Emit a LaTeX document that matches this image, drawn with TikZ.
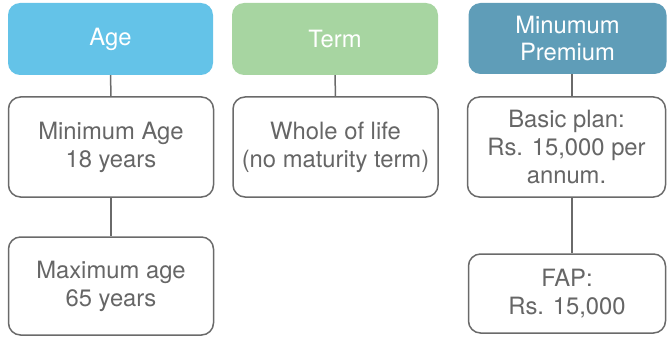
\documentclass[tikz,border=0pt]{standalone}
\usepackage{fontspec}
\setmainfont{TeX Gyre Heros}
\definecolor{ageblue}{HTML}{64C3E8}
\definecolor{termgreen}{HTML}{A7D5A1}
\definecolor{premblue}{HTML}{5F9DB8}
\definecolor{txtgrey}{HTML}{666666}
\definecolor{linegrey}{HTML}{6A6A6A}
\begin{document}
\begin{tikzpicture}[x=1pt,y=1pt,
  hdr/.style={rounded corners=12pt, inner sep=0pt, text=white, align=center,
    font=\fontsize{23.8}{27}\selectfont},
  item/.style={draw=linegrey, line width=1.5pt, rounded corners=12pt, fill=white, inner sep=0pt,
    text=txtgrey, align=center, font=\fontsize{23.8}{28}\selectfont},
  link/.style={draw=linegrey, line width=1.5pt}]
\useasboundingbox (0,0) rectangle (667,-337);
\begin{scope}
\clip (0,0) rectangle (667,-337);
% column 1
\node[hdr, fill=ageblue, minimum width=205pt, minimum height=72pt] (age) at (110.5,-39) {Age};
\node[item, minimum width=205pt, minimum height=100pt] (minage) at (111,-147) {Minimum Age\\18 years};
\node[item, minimum width=205pt, minimum height=98pt] (maxage) at (111,-286) {Maximum age\\65 years};
% column 2
\node[hdr, fill=termgreen, minimum width=206pt, minimum height=72pt] (term) at (335,-39) {Term};
\node[item, minimum width=205pt, minimum height=100pt] (whole) at (335.5,-147) {Whole of life\\(no maturity term)};
% column 3
\node[hdr, fill=premblue, minimum width=198pt, minimum height=71pt] (prem) at (567.5,-38.5) {Minumum\\Premium};
\node[item, minimum width=198pt, minimum height=100pt] (basic) at (566.5,-147) {Basic plan:\\Rs. 15,000 per\\annum.};
\node[item, minimum width=197pt, minimum height=79pt] (fap) at (567,-293.5) {FAP:\\Rs. 15,000};
\coordinate (cx) at (572,0);
% connectors
\draw[link] (age.south) -- (minage.north);
\draw[link] (minage.south) -- (maxage.north);
\draw[link] (term.south) -- (whole.north);
\draw[link] (prem.south -| cx) -- (basic.north -| cx);
\draw[link] (basic.south -| cx) -- (fap.north -| cx);
\end{scope}
\end{tikzpicture}
\end{document}
